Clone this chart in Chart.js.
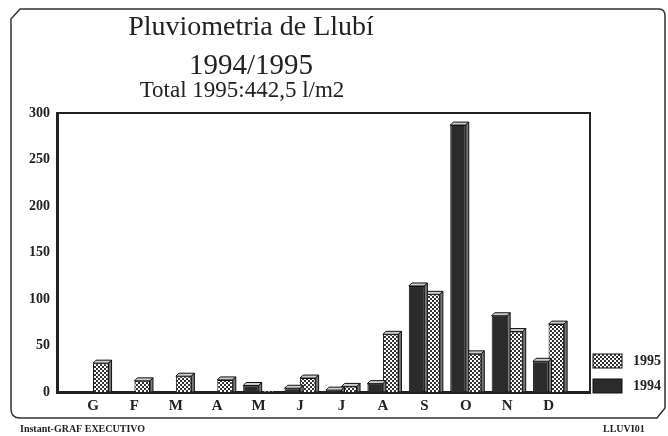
<!DOCTYPE html>
<html>
<head>
<meta charset="utf-8">
<script src="https://cdn.jsdelivr.net/npm/chart.js@4"></script>
<style>
html, body { margin: 0; padding: 0; background: #fff; }
#wrap { width: 668px; height: 436px; }
</style>
</head>
<body>
<div id="wrap"><canvas id="rainChart"></canvas></div>
<script>
// rainfall in l/m2 per month
const months = ['G', 'F', 'M', 'A', 'M', 'J', 'J', 'A', 'S', 'O', 'N', 'D'];
const rain1994 = [0, 0, 0, 0, 7, 4, 2, 9, 114, 287, 82, 33];
const rain1995 = [31, 12, 17, 13, 1, 15, 6, 62, 105, 41, 65, 73];
const yTicks = [0, 50, 100, 150, 200, 250, 300];
const titleLines = ['Pluviometria de Llubí', '1994/1995', 'Total 1995:442,5 l/m2'];
const footerLeft = 'Instant-GRAF EXECUTIVO';
const footerRight = 'LLUVI01';

const serif = "'Liberation Serif', 'DejaVu Serif', serif";
const ink = '#222';

function checker() {
    const c = document.createElement('canvas');
    c.width = 4; c.height = 4;
    const g = c.getContext('2d');
    g.fillStyle = '#fff';
    g.fillRect(0, 0, 4, 4);
    g.fillStyle = '#333';
    g.fillRect(0, 0, 2, 2);
    g.fillRect(2, 2, 2, 2);
    return g.createPattern(c, 'repeat');
}
const pattern1995 = checker();

const toPoints = arr => arr.map((v, i) => ({ x: i, y: v }));

// outer frame, titles, 3d bar tops, legend
const decor = {
    id: 'decor',
    beforeDraw(chart) {
        const ctx = chart.ctx;
        ctx.save();
        ctx.strokeStyle = '#333';
        ctx.lineWidth = 1.5;
        ctx.beginPath();
        ctx.moveTo(11, 19);
        ctx.lineTo(20, 9);
        ctx.lineTo(659, 9);
        ctx.quadraticCurveTo(665, 9, 665, 16);
        ctx.lineTo(665, 408);
        ctx.lineTo(657, 418);
        ctx.lineTo(20, 418);
        ctx.quadraticCurveTo(11, 418, 11, 409);
        ctx.closePath();
        ctx.stroke();

        ctx.fillStyle = ink;
        ctx.textAlign = 'center';
        ctx.textBaseline = 'alphabetic';
        ctx.font = '28px ' + serif;
        ctx.fillText(titleLines[0], 251, 35);
        ctx.font = '29px ' + serif;
        ctx.fillText(titleLines[1], 251, 74);
        ctx.font = '23px ' + serif;
        ctx.fillText(titleLines[2], 242, 97);

        ctx.font = 'bold 10px ' + serif;
        ctx.textAlign = 'left';
        ctx.fillText(footerLeft, 20, 432);
        ctx.fillText(footerRight, 603, 432);
        ctx.restore();
    },
    afterDatasetDraw(chart, args) {
        const ctx = chart.ctx;
        const d = 3;
        ctx.save();
        ctx.strokeStyle = '#111';
        ctx.lineWidth = 1;
        args.meta.data.forEach(el => {
            const p = el.getProps(['x', 'y', 'base', 'width'], true);
            if (p.base - p.y < 1) return;
            const l = p.x - p.width / 2, r = p.x + p.width / 2;
            ctx.fillStyle = '#ccc';
            ctx.beginPath();
            ctx.moveTo(l, p.y);
            ctx.lineTo(l + d, p.y - d);
            ctx.lineTo(r + d, p.y - d);
            ctx.lineTo(r, p.y);
            ctx.closePath();
            ctx.fill();
            ctx.stroke();
            ctx.fillStyle = '#777';
            ctx.beginPath();
            ctx.moveTo(r, p.y);
            ctx.lineTo(r + d, p.y - d);
            ctx.lineTo(r + d, p.base);
            ctx.lineTo(r, p.base);
            ctx.closePath();
            ctx.fill();
            ctx.stroke();
        });
        ctx.restore();
    },
    afterDraw(chart) {
        const ctx = chart.ctx;
        const a = chart.chartArea;
        ctx.save();
        ctx.strokeStyle = ink;
        ctx.lineWidth = 2;
        ctx.beginPath();
        ctx.moveTo(a.left, a.top);
        ctx.lineTo(a.right, a.top);
        ctx.lineTo(a.right, a.bottom);
        ctx.stroke();

        // legend, 1995 above 1994
        const ds = chart.data.datasets.slice().reverse();
        ctx.font = 'bold 14px ' + serif;
        ctx.textBaseline = 'middle';
        ds.forEach((set, i) => {
            const y = a.bottom - 38 + i * 25;
            ctx.fillStyle = set.backgroundColor;
            ctx.fillRect(a.right + 3, y, 29, 14);
            ctx.strokeStyle = '#111';
            ctx.lineWidth = 1;
            ctx.strokeRect(a.right + 3, y, 29, 14);
            ctx.fillStyle = ink;
            ctx.fillText(set.label, a.right + 43, y + 7);
        });
        ctx.restore();
    }
};

new Chart(document.getElementById('rainChart'), {
    type: 'bar',
    data: {
        datasets: [{
            label: '1994',
            data: toPoints(rain1994),
            backgroundColor: '#2b2b2b',
            borderColor: '#111',
            borderWidth: 1,
        }, {
            label: '1995',
            data: toPoints(rain1995),
            backgroundColor: pattern1995,
            borderColor: '#111',
            borderWidth: 1,
        }]
    },
    options: {
        responsive: true,
        maintainAspectRatio: false,
        animation: false,
        layout: { padding: { left: 25, right: 78, top: 113, bottom: 22 } },
        datasets: { bar: { categoryPercentage: 0.75, barPercentage: 1 } },
        plugins: {
            legend: { display: false },
            tooltip: { enabled: false },
        },
        scales: {
            x: {
                type: 'linear',
                offset: false,
                min: -0.87,
                max: 12,
                grid: { display: false, drawTicks: false },
                border: { color: ink, width: 3 },
                ticks: {
                    color: ink,
                    font: { family: serif, size: 15, weight: 'bold' },
                    padding: 5,
                    autoSkip: false,
                    maxRotation: 0,
                    callback: v => months[v] || '',
                },
                afterBuildTicks: s => {
                    s.ticks = months.map((m, i) => ({ value: i }));
                },
                afterFit: s => { s.height = 22; },
            },
            y: {
                min: 0,
                max: 300,
                grid: { display: false, drawTicks: false },
                border: { color: ink, width: 3 },
                ticks: {
                    color: ink,
                    font: { family: serif, size: 14, weight: 'bold' },
                    padding: 7,
                },
                afterBuildTicks: s => {
                    s.ticks = yTicks.map(v => ({ value: v }));
                },
                afterFit: s => { s.width = 32; },
            }
        }
    },
    plugins: [decor]
});
</script>
</body>
</html>
